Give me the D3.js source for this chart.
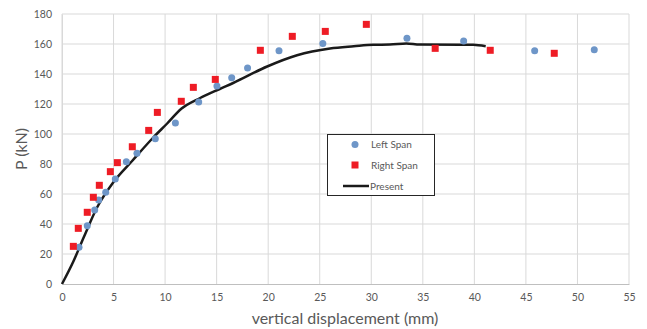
<!DOCTYPE html>
<html>
<head>
  <meta charset="utf-8">
  <title>P vs displacement</title>
  <style>
    body { margin: 0; background: #fff; }
    text { font-family: Lato, "Open Sans", sans-serif; }
  </style>
</head>
<body>
  <svg width="647" height="329"></svg>
  <script src="https://d3js.org/d3.v7.min.js"></script>
  <script>
    // Left span test points [displacement mm, P kN]
    var leftSpan = [
      [1.65, 24.5], [2.45, 38.9], [3.17, 49.3], [3.56, 56], [4.24, 61.1], [5.17, 70],
      [6.24, 81.5], [7.27, 87.1], [9.05, 96.9], [11.0, 107.3], [13.26, 121.3], [15.03, 132],
      [16.46, 137.5], [18.0, 144], [21.05, 155.5], [25.3, 160.4], [33.46, 163.8],
      [38.96, 162], [45.85, 155.5], [51.63, 156.2]
    ];
    // Right span test points
    var rightSpan = [
      [1.1, 25.1], [1.58, 37.1], [2.45, 47.8], [3.04, 57.8], [3.62, 65.8], [4.69, 74.9],
      [5.37, 80.9], [6.82, 91.5], [8.41, 102.4], [9.25, 114.4], [11.57, 121.8], [12.74, 131.1],
      [14.87, 136.4], [19.24, 155.8], [22.34, 165.1], [25.54, 168.4], [29.52, 173.1],
      [36.2, 157.1], [41.54, 155.8], [47.75, 153.8]
    ];
    // Present model curve
    var present = [
      [0, 0], [1.1, 15], [2.1, 31], [3.4, 51], [5, 68], [6.8, 82], [8.9, 98], [10.2, 107],
      [11.6, 117], [13.4, 124], [15.3, 130], [16.6, 134], [19.9, 145], [22.8, 152.5],
      [26, 157], [28.3, 158.5], [30.2, 159.5], [31.8, 159.6], [33.4, 160.3], [34.7, 159.6],
      [39.9, 159.5], [41.1, 158.5]
    ];
    var xTicks = d3.range(0, 56, 5);
    var yTicks = d3.range(0, 181, 20);
    var legendItems = ["Left Span", "Right Span", "Present"];

    var svg = d3.select("svg");
    var pL = 62, pR = 629, pT = 14, pB = 284;

    var x = d3.scaleLinear().domain([0, 55]).range([pL, pR]);
    var y = d3.scaleLinear().domain([0, 180]).range([pB, pT]);

    // grid
    svg.append("g").selectAll("line").data(xTicks).join("line")
      .attr("x1", d => x(d)).attr("x2", d => x(d))
      .attr("y1", pT).attr("y2", pB)
      .attr("stroke", "#d9d9d9").attr("stroke-width", 1);
    svg.append("g").selectAll("line").data(yTicks.slice(1)).join("line")
      .attr("x1", pL).attr("x2", pR)
      .attr("y1", d => y(d)).attr("y2", d => y(d))
      .attr("stroke", "#d9d9d9").attr("stroke-width", 1);

    // axes
    var xAxis = svg.append("g").attr("transform", "translate(0," + pB + ")")
      .call(d3.axisBottom(x).tickValues(xTicks).tickSize(0).tickPadding(10));
    xAxis.select(".domain").attr("stroke", "#bfbfbf");
    var yAxis = svg.append("g").attr("transform", "translate(" + pL + ",0)")
      .call(d3.axisLeft(y).tickValues(yTicks).tickSize(0).tickPadding(10));
    yAxis.select(".domain").attr("stroke", "#d9d9d9");
    svg.selectAll(".tick text")
      .attr("fill", "#595959").style("font-size", "10.5px")
      .style("font-family", "Lato, 'Open Sans', sans-serif");

    // axis titles
    svg.append("text").attr("x", 345).attr("y", 324)
      .attr("text-anchor", "middle").attr("fill", "#595959").style("font-size", "16px")
      .text("vertical displacement (mm)");
    svg.append("text").attr("transform", "translate(27," + ((pT + pB) / 2) + ") rotate(-90)")
      .attr("text-anchor", "middle").attr("fill", "#595959").style("font-size", "16px")
      .text("P (kN)");

    // present line
    var line = d3.line().x(d => x(d[0])).y(d => y(d[1])).curve(d3.curveMonotoneX);
    svg.append("path").attr("d", line(present))
      .attr("fill", "none").attr("stroke", "#1a1a1a").attr("stroke-width", 2.5);

    // markers
    svg.append("g").selectAll("circle").data(leftSpan).join("circle")
      .attr("cx", d => x(d[0])).attr("cy", d => y(d[1])).attr("r", 3.5)
      .attr("fill", "#6e96c8");
    svg.append("g").selectAll("rect").data(rightSpan).join("rect")
      .attr("x", d => x(d[0]) - 3.5).attr("y", d => y(d[1]) - 3.5)
      .attr("width", 7).attr("height", 7)
      .attr("fill", "#ee1c25");

    // legend
    var lg = svg.append("g");
    lg.append("rect").attr("x", 327.5).attr("y", 134.5).attr("width", 107).attr("height", 61)
      .attr("fill", "#fff").attr("stroke", "#262626").attr("stroke-width", 1);
    var rows = [144.5, 165, 186];
    lg.append("circle").attr("cx", 355).attr("cy", rows[0]).attr("r", 3.5).attr("fill", "#6e96c8");
    lg.append("rect").attr("x", 351.5).attr("y", rows[1] - 3.5).attr("width", 7).attr("height", 7).attr("fill", "#ee1c25");
    lg.append("line").attr("x1", 343).attr("x2", 369).attr("y1", rows[2]).attr("y2", rows[2])
      .attr("stroke", "#1a1a1a").attr("stroke-width", 2.5);
    lg.selectAll("text.lt").data(legendItems).join("text").attr("class", "lt")
      .attr("x", (d, i) => i == 2 ? 370 : 371).attr("y", (d, i) => rows[i] + 3.5)
      .attr("fill", "#595959").style("font-size", "10px")
      .text(d => d);
  </script>
</body>
</html>
